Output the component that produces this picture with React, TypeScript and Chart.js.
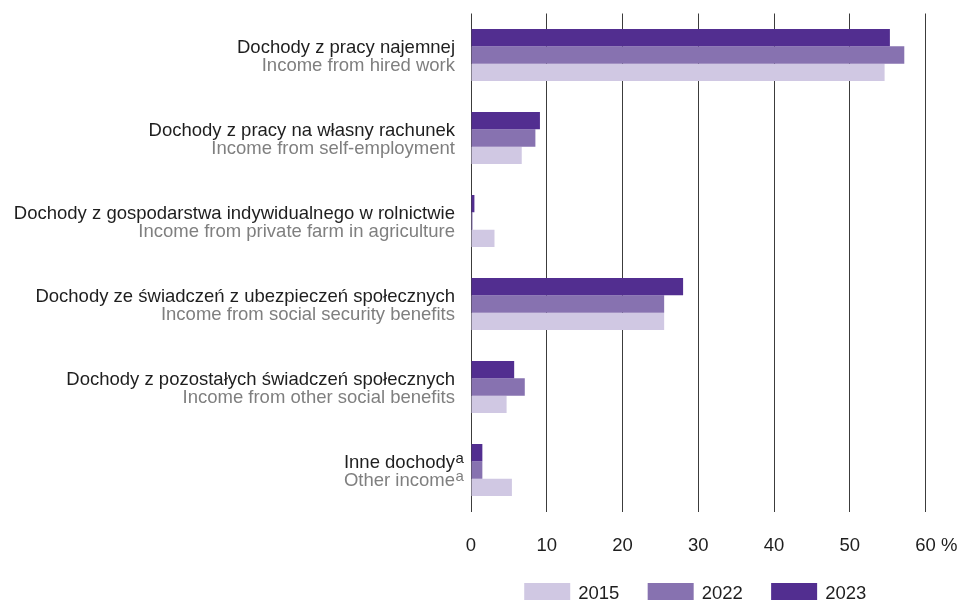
import React, { useEffect, useRef } from "react";
import { Chart, registerables } from "chart.js";

Chart.register(...registerables);

const categoriesPl = [
  "Dochody z pracy najemnej",
  "Dochody z pracy na własny rachunek",
  "Dochody z gospodarstwa indywidualnego w rolnictwie",
  "Dochody ze świadczeń z ubezpieczeń społecznych",
  "Dochody z pozostałych świadczeń społecznych",
  "Inne dochody",
];
const categoriesEn = [
  "Income from hired work",
  "Income from self-employment",
  "Income from private farm in agriculture",
  "Income from social security benefits",
  "Income from other social benefits",
  "Other income",
];
const footnotes = ["", "", "", "", "", "a"];

const years = ["2015", "2022", "2023"];
const values2015 = [54.6, 6.7, 3.1, 25.5, 4.7, 5.4];
const values2022 = [57.2, 8.5, 0.2, 25.5, 7.1, 1.5];
const values2023 = [55.3, 9.1, 0.45, 28.0, 5.7, 1.5];

const xMin = 0;
const xMax = 60;
const xStep = 10;
const xUnit = "%";

const colors: Record<string, string> = {
  "2015": "#d0c8e3",
  "2022": "#8772b0",
  "2023": "#522e90",
};

const FONT = '"Liberation Sans", Arial, Helvetica, sans-serif';
const FS = 18.5;
const DARK = "#1e1e1e";
const GRAY = "#7f7f7f";

const labelPlugin = {
  id: "catLabels",
  afterDraw(chart: any) {
    const ctx = chart.ctx;
    const ys = chart.scales.y;
    const xs = chart.scales.x;
    const xr = chart.chartArea.left - 16;
    ctx.save();
    categoriesPl.forEach((pl: string, i: number) => {
      const cy = ys.getPixelForValue(i);
      ctx.textAlign = "right";
      ctx.textBaseline = "alphabetic";
      ctx.font = `${FS}px ${FONT}`;
      ctx.fillStyle = DARK;
      ctx.fillText(pl, xr, cy - 2.5);
      ctx.fillStyle = GRAY;
      ctx.fillText(categoriesEn[i], xr, cy + 15.5);
      if (footnotes[i]) {
        ctx.font = `15px ${FONT}`;
        ctx.textAlign = "left";
        ctx.fillStyle = DARK;
        ctx.fillText(footnotes[i], xr + 0.5, cy - 2.5 - 5);
        ctx.fillStyle = GRAY;
        ctx.fillText(footnotes[i], xr + 0.5, cy + 15.5 - 5);
      }
    });

    // unit after last tick label
    ctx.font = `${FS}px ${FONT}`;
    const lastPx = xs.getPixelForValue(xMax);
    const w = ctx.measureText(String(xMax)).width;
    ctx.textAlign = "left";
    ctx.textBaseline = "middle";
    ctx.fillStyle = DARK;
    ctx.fillText(" " + xUnit, lastPx + w / 2, xs.top + 23 + (FS * 1.2) / 2);

    // legend
    const boxW = 46;
    const boxH = 17;
    const gap = 8;
    const itemGap = 28.3;
    const items = years.map((yr) => {
      const ds = chart.data.datasets.find((d: any) => d.label === yr);
      return { label: yr, color: ds ? ds.backgroundColor : "#000", tw: ctx.measureText(yr).width };
    });
    const total = items.reduce((s: number, it: any) => s + boxW + gap + it.tw, 0) + itemGap * (items.length - 1);
    let x = (chart.chartArea.left + chart.chartArea.right) / 2 - total / 2 - 3;
    const top = 583;
    items.forEach((it: any) => {
      ctx.fillStyle = it.color;
      ctx.fillRect(x, top, boxW, boxH);
      ctx.fillStyle = DARK;
      ctx.textAlign = "left";
      ctx.textBaseline = "middle";
      ctx.fillText(it.label, x + boxW + gap, top + boxH / 2 + 2);
      x += boxW + gap + it.tw + itemGap;
    });
    ctx.restore();
  },
};

export default function App() {
  const ref = useRef<HTMLCanvasElement | null>(null);

  useEffect(() => {
    if (!ref.current) return;
    const datasets = [
      { label: "2023", data: values2023, backgroundColor: colors["2023"] },
      { label: "2022", data: values2022, backgroundColor: colors["2022"] },
      { label: "2015", data: values2015, backgroundColor: colors["2015"] },
    ].map((d) => ({ ...d, borderWidth: 0, barPercentage: 1, categoryPercentage: 0.627 }));

    const chart = new Chart(ref.current, {
      type: "bar",
      data: { labels: categoriesPl, datasets },
      options: {
        indexAxis: "y",
        animation: false,
        responsive: true,
        maintainAspectRatio: false,
        layout: { padding: { top: 13.5, right: 34.5, left: 0, bottom: 0 } },
        plugins: {
          legend: { display: false },
          tooltip: { enabled: false },
        },
        scales: {
          x: {
            min: xMin,
            max: xMax,
            ticks: {
              stepSize: xStep,
              padding: 23,
              color: DARK,
              font: { family: FONT, size: FS },
            },
            grid: { color: "#3c3c3c", lineWidth: 1, drawTicks: false },
            border: { display: false },
            afterFit: (s: any) => {
              s.height = 90.5;
            },
          },
          y: {
            ticks: { display: false },
            grid: { display: false },
            border: { display: false },
            afterFit: (s: any) => {
              s.width = 471;
            },
          },
        },
      },
      plugins: [labelPlugin],
    });
    return () => chart.destroy();
  }, []);

  return (
    <div style={{ position: "absolute", left: 0, top: 0, width: 960, height: 602, background: "#fff" }}>
      <canvas ref={ref} />
    </div>
  );
}
